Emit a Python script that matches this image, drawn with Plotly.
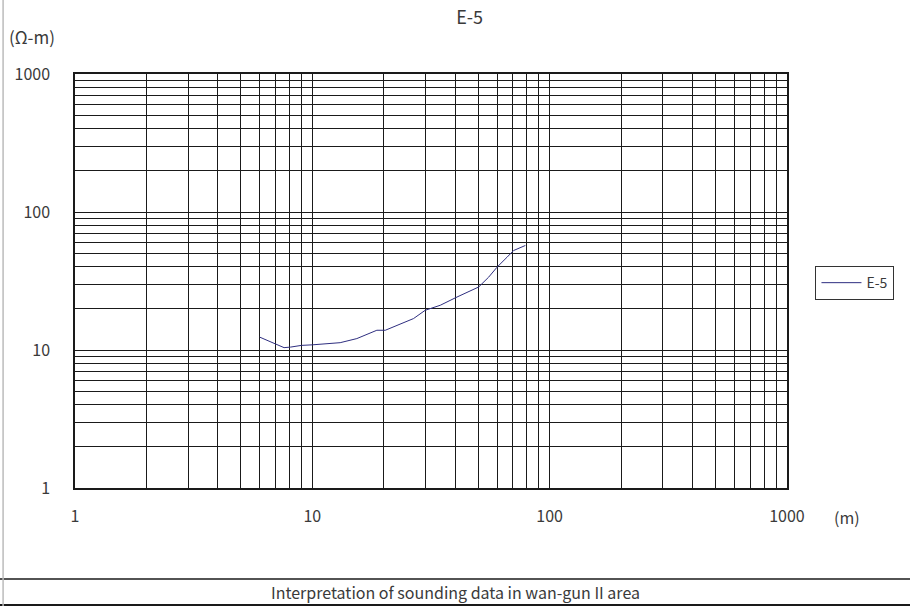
import plotly.graph_objects as go

# electrode spacing (m) and apparent resistivity (ohm-m)
spacing = [6.0, 7.6, 8.1, 9.0, 10.0, 13.1, 15.4, 18.7, 20.3, 22.7, 26.7, 29.9,
           34.6, 40.7, 50.2, 55.3, 60.0, 66.1, 70.5, 79.0]
resistivity = [12.4, 10.4, 10.5, 10.8, 10.9, 11.3, 12.1, 13.9, 13.9, 15.1, 16.9, 19.4,
               21.1, 24.2, 28.6, 33.7, 39.8, 47.0, 52.6, 57.2]

decades = [1, 10, 100, 1000]
grid_vals = [m * d for d in [1, 10, 100] for m in range(1, 10)] + [1000]
grid_text = [str(v) if v in decades else "" for v in grid_vals]

font = "Noto Sans CJK KR, DejaVu Sans, sans-serif"
txt = "#3a3a3a"

fig = go.Figure()
fig.add_trace(go.Scatter(x=spacing, y=resistivity, mode="lines", name="E-5",
                         line=dict(color="#2e2e80", width=1)))

axis_common = dict(
    type="log", tickvals=grid_vals, ticktext=grid_text,
    showgrid=True, gridcolor="#1a1a1a", gridwidth=1,
    showline=True, linecolor="#1a1a1a", linewidth=1.5, mirror=True,
    ticks="", zeroline=False,
    tickfont=dict(family=font, size=16, color=txt),
)
fig.update_xaxes(range=[0, 3], ticklabelstandoff=13, **axis_common)
fig.update_yaxes(range=[0, 3], ticklabelstandoff=20, **axis_common)

fig.update_layout(
    width=910, height=606,
    margin=dict(l=75, r=123, t=74, b=118),
    paper_bgcolor="white", plot_bgcolor="white",
    title=dict(text="E-5", x=0.516, xanchor="center", y=0.97, yanchor="middle",
               font=dict(family=font, size=18, color=txt)),
    showlegend=True,
    legend=dict(x=1.04, y=0.495, xanchor="left", yanchor="middle",
                bordercolor="#333333", borderwidth=1, bgcolor="white",
                font=dict(family=font, size=14, color=txt),
                itemwidth=40, tracegroupgap=0),
    font=dict(family=font, color=txt),
)

# axis unit labels
fig.add_annotation(text="(Ω-m)", xref="paper", yref="paper", x=-0.095, y=1.09,
                   xanchor="left", yanchor="middle", showarrow=False,
                   font=dict(family=font, size=17, color=txt))
fig.add_annotation(text="(m)", xref="paper", yref="paper", x=1.063, y=-0.07,
                   xanchor="left", yanchor="middle", showarrow=False,
                   font=dict(family=font, size=16, color=txt))

# caption box at the bottom
fig.add_shape(type="line", xref="paper", yref="paper", x0=-0.11, x1=1.18,
              y0=-0.2198, y1=-0.2198, line=dict(color="#1a1a1a", width=1.5))
fig.add_shape(type="line", xref="paper", yref="paper", x0=-0.11, x1=1.18,
              y0=-0.2826, y1=-0.2826, line=dict(color="#1a1a1a", width=2))
fig.add_shape(type="line", xref="paper", yref="paper", x0=-0.101, x1=-0.101,
              y0=-0.29, y1=1.2, line=dict(color="#bbbbbb", width=1.5))
fig.add_annotation(text="Interpretation of sounding data in wan-gun II area",
                   xref="paper", yref="paper", x=0.534, y=-0.251,
                   xanchor="center", yanchor="middle", showarrow=False,
                   font=dict(family=font, size=16, color=txt))

fig.write_html("out.html", config={"displayModeBar": False},
               post_script="document.body.style.margin='0';")
